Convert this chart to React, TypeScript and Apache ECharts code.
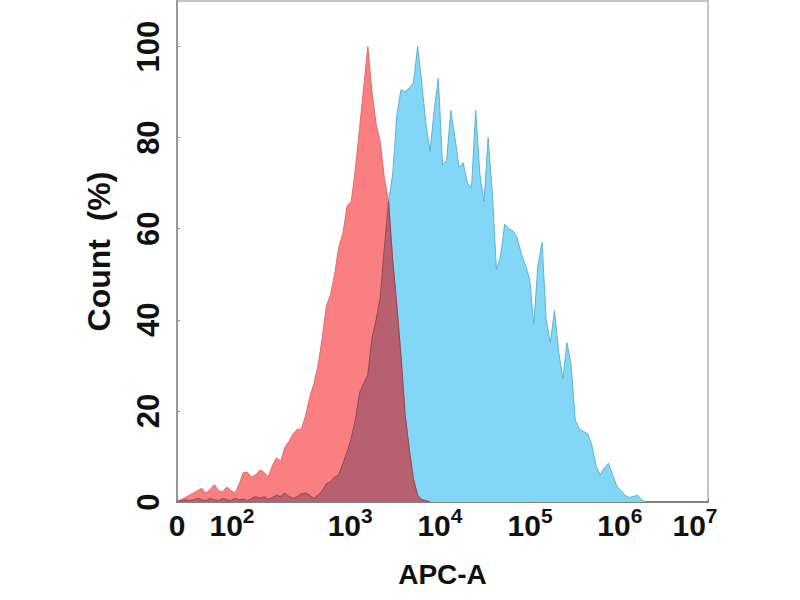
import React, { useEffect, useRef } from 'react';
import * as echarts from 'echarts';

// histogram bins are 8 channels wide, channel axis runs 0..1024
const binWidth = 8;

// isotype control (red)
const redCounts = [
  0.3, 0.5, 1, 1.5, 2, 2.5, 3, 2, 2.8, 3.8,
  2.5, 2.2, 3.3, 2.5, 2, 4, 6.5, 6.5, 5.5, 6,
  7, 6.5, 5.5, 8, 9.7, 9, 12, 13.3, 15, 16,
  16, 19, 23, 26, 30, 36, 43, 45.5, 50, 56,
  59, 65, 66, 73, 82, 91, 100, 90, 83, 79,
  71, 66, 53, 43, 32, 19, 11.5, 5, 1.5, 0.5,
  0.3, 0,
];

// stained sample (blue)
const blueCounts = [
  0, 0.3, 0.5, 0.3, 0.5, 0.8, 0.5, 0.3, 0.8, 0.5,
  0.3, 0.8, 0.5, 0.3, 0.8, 0.5, 0.6, 0.3, 0.8, 1.2,
  0.8, 1.2, 0.6, 1, 1.5, 1.2, 2, 1.2, 0.8, 1.2,
  1.8, 2, 1.5, 0.8, 1.5, 2.5, 4, 4.5, 5.5, 6,
  8.5, 11, 14, 18, 24, 26, 28, 36, 40, 45,
  56, 66, 72, 85, 90.5, 90, 91, 92, 100, 92,
  83, 77, 86, 93, 74, 75, 86, 80, 73.5, 74.5,
  70, 69, 86, 72, 66, 80, 68, 51, 54, 61,
  60, 59.5, 58, 54.5, 52, 49, 39, 52, 57, 40,
  35, 42, 33, 27, 35, 30, 18, 16, 15.5, 15,
  12.5, 8, 6, 7.5, 8.5, 6, 3.5, 2.5, 1.5, 1,
  1.2, 1.5, 0.5, 0,
];

const xTickChannels = [0, 106, 334, 507, 681, 854, 1024];
const xTickExponents = ['', '2', '3', '4', '5', '6', '7'];
const yTicks = [0, 20, 40, 60, 80, 100];

const font = 'Liberation Sans, Arial, sans-serif';

function App() {
  const chartRef = useRef<HTMLDivElement>(null);

  useEffect(() => {
    const chart = echarts.init(chartRef.current, null, { renderer: 'svg' });

    const toPoints = (counts: number[]) => counts.map((c, i) => [i * binWidth, c]);
    const overlap = redCounts.map((r, i) => Math.min(r, blueCounts[i] ?? 0));

    const options = {
      animation: false,
      grid: {
        left: 177,
        right: 92,
        top: 1,
        bottom: 98,
        show: true,
        borderColor: '#c4c4c4',
        borderWidth: 2,
      },
      xAxis: {
        type: 'value',
        min: 0,
        max: 1024,
        name: 'APC-A',
        nameLocation: 'middle',
        nameGap: 58,
        nameTextStyle: { fontSize: 28, fontWeight: 'bold', color: '#111', fontFamily: font },
        axisLine: { show: true, onZero: false, lineStyle: { color: '#808080', width: 2 } },
        axisTick: { show: true, inside: true, length: 3, customValues: xTickChannels, lineStyle: { color: '#777' } },
        splitLine: { show: false },
        axisLabel: {
          customValues: xTickChannels,
          margin: 3,
          color: '#111',
          fontFamily: font,
          formatter: (v: number) => {
            const i = xTickChannels.indexOf(v);
            if (i <= 0) return '{b|0}';
            if (i === xTickChannels.length - 1) return '{b|10}{s|' + xTickExponents[i] + '}{p| }';
            return '{b|10}{s|' + xTickExponents[i] + '}';
          },
          rich: {
            b: { fontSize: 30, fontWeight: 'bold', color: '#111', fontFamily: font, lineHeight: 35, verticalAlign: 'bottom' },
            s: { fontSize: 21, fontWeight: 'bold', color: '#111', fontFamily: font, lineHeight: 21, verticalAlign: 'top' },
            p: { width: 26, fontSize: 20 },
          },
        },
      },
      yAxis: {
        type: 'value',
        min: 0,
        max: 110,
        name: 'Count  (%)',
        nameLocation: 'middle',
        nameGap: 62,
        nameRotate: 90,
        nameTextStyle: { fontSize: 32, fontWeight: 'bold', color: '#111', fontFamily: font },
        axisLine: { show: true, lineStyle: { color: '#999', width: 2 } },
        axisTick: { show: true, inside: true, length: 3, customValues: yTicks, lineStyle: { color: '#888' } },
        splitLine: { show: false },
        axisLabel: {
          customValues: yTicks,
          rotate: 90,
          margin: 13,
          fontSize: 31,
          fontWeight: 'bold',
          color: '#111',
          fontFamily: font,
        },
      },
      series: [
        {
          name: 'stained',
          type: 'line',
          data: toPoints(blueCounts),
          showSymbol: false,
          lineStyle: { color: '#5eb2cf', width: 1 },
          areaStyle: { color: '#82d6f6', opacity: 1 },
          z: 2,
        },
        {
          name: 'control',
          type: 'line',
          data: toPoints(redCounts),
          showSymbol: false,
          lineStyle: { color: '#e56a6d', width: 1 },
          areaStyle: { color: '#fa7f80', opacity: 1 },
          z: 3,
        },
        {
          name: 'overlap',
          type: 'line',
          data: toPoints(overlap),
          showSymbol: false,
          lineStyle: { color: '#8d4a58', width: 1 },
          areaStyle: { color: '#b7606f', opacity: 1 },
          z: 4,
        },
      ],
    };

    chart.setOption(options);

    return () => {
      chart.dispose();
    };
  }, []);

  return (
    <div
      ref={chartRef}
      style={{ position: 'fixed', left: 0, top: 0, width: '800px', height: '600px', background: '#fff' }}
    ></div>
  );
}

export default App;
